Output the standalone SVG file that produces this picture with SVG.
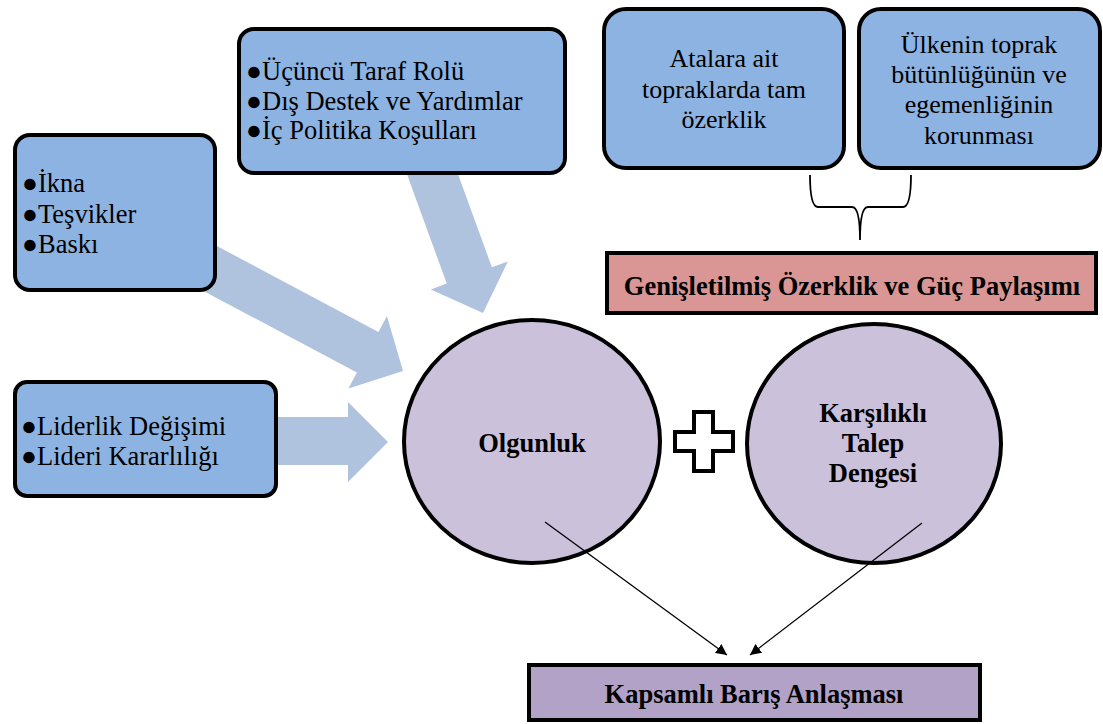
<svg xmlns="http://www.w3.org/2000/svg" width="1103" height="724" viewBox="0 0 1103 724">
<defs>
<style>
.box{fill:#8db3e2;stroke:#000;stroke-width:4}
.fat{fill:#b0c3de;stroke:none}
.ell{fill:#ccc1da;stroke:#000;stroke-width:4}
.t{font-family:"Liberation Serif","Times New Roman",serif;font-size:26.5px;fill:#000}
.c{font-family:"Liberation Serif","Times New Roman",serif;font-size:26px;fill:#000;text-anchor:middle}
.b{font-family:"Liberation Serif","Times New Roman",serif;font-size:26.5px;font-weight:bold;fill:#000;text-anchor:middle}
.thin{stroke:#000;stroke-width:1.3;fill:none;marker-end:url(#ah)}
</style>
<marker id="ah" viewBox="0 0 10 10" refX="10" refY="5" markerWidth="11" markerHeight="11" markerUnits="userSpaceOnUse" orient="auto">
<path d="M0,0 L10,5 L0,10 z" fill="#000"/>
</marker>
</defs>
<rect width="1103" height="724" fill="#fff"/>
<g id="connectors">
<polygon class="fat" transform="translate(403,371) rotate(28)" points="-260,-23 -40,-23 -40,-41 0,0 -40,41 -40,23 -260,23"/>
<polygon class="fat" transform="translate(483,313) rotate(70)" points="-190,-24 -40,-24 -40,-41 0,0 -40,41 -40,24 -190,24"/>
<polygon class="fat" points="260,417 348,417 348,402 388,442 348,482 348,465 260,465"/>
<path d="M810,175 Q810,207 818,207 L852,207 Q860,207 860,240 Q860,207 868,207 L903,207 Q911,207 911,175" fill="none" stroke="#000" stroke-width="1.8"/>
</g>
<g id="node-ikna">
<rect class="box" x="15" y="135" width="200" height="155" rx="15"/>
<text class="t" x="22" y="192">●İkna</text>
<text class="t" x="22" y="223">●Teşvikler</text>
<text class="t" x="22" y="253">●Baskı</text>
</g>
<g id="node-ucuncu">
<rect class="box" x="239" y="29" width="326" height="144" rx="15"/>
<text class="t" x="246" y="80">●Üçüncü Taraf Rolü</text>
<text class="t" x="246" y="110">●Dış Destek ve Yardımlar</text>
<text class="t" x="246" y="139">●İç Politika Koşulları</text>
</g>
<g id="node-liderlik">
<rect class="box" x="15" y="382" width="261" height="114" rx="12"/>
<text class="t" x="21" y="435">●Liderlik Değişimi</text>
<text class="t" x="21" y="465">●Lideri Kararlılığı</text>
</g>
<g id="node-atalara">
<rect class="box" x="604" y="9" width="240" height="159" rx="22"/>
<text class="c" x="724" y="67">Atalara ait</text>
<text class="c" x="724" y="98">topraklarda tam</text>
<text class="c" x="724" y="128">özerklik</text>
</g>
<g id="node-ulkenin">
<rect class="box" x="859" y="9" width="241" height="159" rx="22"/>
<text class="c" x="979" y="53">Ülkenin toprak</text>
<text class="c" x="979" y="83">bütünlüğünün ve</text>
<text class="c" x="979" y="113">egemenliğinin</text>
<text class="c" x="979" y="144">korunması</text>
</g>
<g id="node-genisletilmis">
<rect x="607" y="253" width="489" height="60" fill="#d99694" stroke="#000" stroke-width="4"/>
<text class="b" x="852" y="295">Genişletilmiş Özerklik ve Güç Paylaşımı</text>
</g>
<g id="node-olgunluk">
<ellipse class="ell" cx="532" cy="441.5" rx="128" ry="121.5"/>
<text class="b" x="532" y="452">Olgunluk</text>
</g>
<g id="node-plus">
<path d="M694,412 L713,412 L713,432 L733,432 L733,451 L713,451 L713,471 L694,471 L694,451 L675,451 L675,432 L694,432 Z" fill="#fff" stroke="#000" stroke-width="4"/>
</g>
<g id="node-karsilikli">
<ellipse class="ell" cx="874" cy="443.5" rx="127" ry="119.5"/>
<text class="b" x="873" y="422">Karşılıklı</text>
<text class="b" x="873" y="452">Talep</text>
<text class="b" x="873" y="482">Dengesi</text>
</g>
<g id="node-kapsamli">
<rect x="529" y="665" width="451" height="55" fill="#b3a2c7" stroke="#000" stroke-width="4"/>
<text class="b" x="754" y="703">Kapsamlı Barış Anlaşması</text>
</g>
<g id="connectors-lines">
<line class="thin" x1="545" y1="522" x2="727" y2="655"/>
<line class="thin" x1="922" y1="523" x2="750" y2="655"/>
</g>
</svg>
